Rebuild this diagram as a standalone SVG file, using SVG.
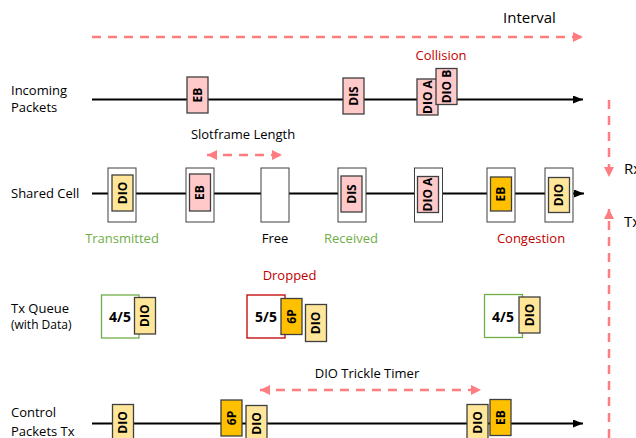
<svg xmlns="http://www.w3.org/2000/svg" width="636" height="438" viewBox="0 0 636 438">
  <style>
    .t { font-family: "Open Sans", "Liberation Sans", sans-serif; font-size: 13px; fill: #000; }
    .red { fill: #c00000; }
    .grn { fill: #70ad47; }
    .pkt { stroke: #3f3f3f; stroke-width: 1.3; }
    .pink { fill: #ffc9c9; }
    .yel { fill: #ffe699; }
    .org { fill: #ffc000; }
    .cell { fill: #fff; stroke: #3f3f3f; stroke-width: 1; }
    .pl { font-family: "Open Sans", "Liberation Sans", sans-serif; font-size: 12px; font-weight: bold; fill: #000; text-anchor: middle; }
    .ql { font-family: "Open Sans", "Liberation Sans", sans-serif; font-size: 14px; font-weight: bold; fill: #000; text-anchor: middle; }
    .axis { stroke: #000; stroke-width: 2; fill: none; }
    .dash { stroke: #ff7c80; stroke-width: 2.5; stroke-dasharray: 9 7; fill: none; }
  </style>
  <defs>
    <marker id="blk" markerUnits="userSpaceOnUse" markerWidth="10" markerHeight="8" refX="10" refY="4" orient="auto">
      <path d="M0,0 L10,4 L0,8 z" fill="#000"/>
    </marker>
    <marker id="sal" markerUnits="userSpaceOnUse" markerWidth="10" markerHeight="10" refX="10" refY="5" orient="auto-start-reverse">
      <path d="M0,0 L10,5 L0,10 z" fill="#ff7c80"/>
    </marker>
  </defs>

  <rect width="636" height="438" fill="#fff"/>

  <!-- timelines and range arrows -->
  <g id="connectors">
    <line class="dash" x1="92" y1="37" x2="583" y2="37" marker-end="url(#sal)"/>
    <line class="axis" x1="92" y1="99.5" x2="583" y2="99.5" marker-end="url(#blk)"/>
    <line class="dash" x1="207" y1="155" x2="282" y2="155" marker-start="url(#sal)" marker-end="url(#sal)"/>
    <line class="axis" x1="92" y1="193.5" x2="584" y2="193.5" marker-end="url(#blk)"/>
    <line class="dash" x1="260" y1="390" x2="481" y2="390" marker-start="url(#sal)" marker-end="url(#sal)"/>
    <line class="axis" x1="92" y1="423.5" x2="583" y2="423.5" marker-end="url(#blk)"/>
    <line class="dash" x1="609" y1="100" x2="609" y2="177" marker-end="url(#sal)"/>
    <line class="dash" x1="609" y1="438" x2="609" y2="209" marker-end="url(#sal)"/>
  </g>

  <!-- row titles -->
  <g id="row-labels">
    <text class="t" x="11" y="95">Incoming</text>
    <text class="t" x="11" y="112">Packets</text>
    <text class="t" x="11" y="198">Shared Cell</text>
    <text class="t" x="11" y="312.5">Tx Queue</text>
    <text class="t" x="11" y="329" style="font-size:12px">(with Data)</text>
    <text class="t" x="11" y="417">Control</text>
    <text class="t" x="11" y="435.5">Packets Tx</text>
    <text class="t" x="503" y="23" style="font-size:15px">Interval</text>
    <text class="t" x="624" y="174" style="font-size:15px">Rx</text>
    <text class="t" x="624" y="227" style="font-size:15px">Tx</text>
    <text class="t" x="243" y="139" text-anchor="middle">Slotframe Length</text>
    <text class="t" x="367" y="378" text-anchor="middle">DIO Trickle Timer</text>
  </g>

  <!-- incoming packets -->
  <g id="in-eb">
    <rect class="pkt pink" x="187" y="77" width="21" height="36"/>
    <text class="pl" transform="translate(197.5,95) rotate(-90)" dy="0.36em">EB</text>
  </g>
  <g id="in-dis">
    <rect class="pkt pink" x="343" y="78" width="21" height="36"/>
    <text class="pl" transform="translate(353.5,96) rotate(-90)" dy="0.36em">DIS</text>
  </g>
  <g id="in-dio-a">
    <rect class="pkt pink" x="417" y="79" width="21" height="36"/>
    <text class="pl" transform="translate(427.5,97) rotate(-90)" dy="0.36em">DIO A</text>
  </g>
  <g id="in-dio-b">
    <rect class="pkt pink" x="436" y="68.5" width="21" height="36"/>
    <text class="pl" transform="translate(446.5,86.5) rotate(-90)" dy="0.36em">DIO B</text>
  </g>
  <g id="collision">
    <text class="t red" x="441" y="60" text-anchor="middle">Collision</text>
  </g>

  <!-- shared cell slots -->
  <g id="cell-1">
    <rect class="cell" x="108" y="168" width="28" height="54"/>
    <rect class="pkt yel" x="112" y="175" width="21" height="36"/>
    <text class="pl" transform="translate(122.5,193) rotate(-90)" dy="0.36em">DIO</text>
    <text class="t grn" x="122" y="243" text-anchor="middle">Transmitted</text>
  </g>
  <g id="cell-2">
    <rect class="cell" x="186" y="168" width="28" height="54"/>
    <rect class="pkt pink" x="189.5" y="174" width="21" height="37"/>
    <text class="pl" transform="translate(200,192.5) rotate(-90)" dy="0.36em">EB</text>
  </g>
  <g id="cell-3">
    <rect class="cell" x="261" y="168" width="28" height="54"/>
    <text class="t" x="275" y="243" text-anchor="middle">Free</text>
  </g>
  <g id="cell-4">
    <rect class="cell" x="338" y="168" width="28" height="54"/>
    <rect class="pkt pink" x="341" y="176" width="21" height="36"/>
    <text class="pl" transform="translate(351.5,194) rotate(-90)" dy="0.36em">DIS</text>
    <text class="t grn" x="351" y="243" text-anchor="middle">Received</text>
  </g>
  <g id="cell-5">
    <rect class="cell" x="414.5" y="168" width="28" height="54"/>
    <rect class="pkt pink" x="417.5" y="176.5" width="21" height="36"/>
    <text class="pl" transform="translate(428,194.5) rotate(-90)" dy="0.36em">DIO A</text>
  </g>
  <g id="cell-6">
    <rect class="cell" x="487" y="168" width="28" height="54"/>
    <rect class="pkt org" x="490.5" y="177" width="21" height="34"/>
    <text class="pl" transform="translate(501,194) rotate(-90)" dy="0.36em">EB</text>
    <text class="t red" x="531" y="243" text-anchor="middle">Congestion</text>
  </g>
  <g id="cell-7">
    <rect class="cell" x="545" y="168" width="28" height="54"/>
    <rect class="pkt yel" x="548.5" y="177.5" width="21" height="35"/>
    <text class="pl" transform="translate(559,195) rotate(-90)" dy="0.36em">DIO</text>
  </g>

  <!-- transmit queue states -->
  <g id="queue-1">
    <rect x="101.5" y="295" width="37.5" height="43" fill="#fff" stroke="#70ad47" stroke-width="1.3"/>
    <text class="ql" x="120" y="322">4/5</text>
    <rect class="pkt yel" x="134.5" y="297.5" width="21" height="36.5"/>
    <text class="pl" transform="translate(145,315.75) rotate(-90)" dy="0.36em">DIO</text>
  </g>
  <g id="queue-2">
    <text class="t red" x="289.5" y="280" text-anchor="middle">Dropped</text>
    <rect x="247" y="295" width="38" height="43" fill="#fff" stroke="#c00000" stroke-width="1.3"/>
    <text class="ql" x="266" y="322">5/5</text>
    <rect class="pkt org" x="281" y="298.5" width="21" height="36"/>
    <text class="pl" transform="translate(291.5,316.5) rotate(-90)" dy="0.36em">6P</text>
    <rect class="pkt yel" x="305.5" y="304.5" width="21" height="37"/>
    <text class="pl" transform="translate(316,323) rotate(-90)" dy="0.36em">DIO</text>
  </g>
  <g id="queue-3">
    <rect x="484.5" y="294.5" width="38" height="43" fill="#fff" stroke="#70ad47" stroke-width="1.3"/>
    <text class="ql" x="503" y="321.5">4/5</text>
    <rect class="pkt yel" x="519" y="297" width="21" height="36"/>
    <text class="pl" transform="translate(529.5,315) rotate(-90)" dy="0.36em">DIO</text>
  </g>

  <!-- control packets sent -->
  <g id="tx-dio-1">
    <rect class="pkt yel" x="112.5" y="404.5" width="21" height="36"/>
    <text class="pl" transform="translate(123,422.5) rotate(-90)" dy="0.36em">DIO</text>
  </g>
  <g id="tx-6p">
    <rect class="pkt org" x="221" y="400" width="21" height="36"/>
    <text class="pl" transform="translate(231.5,418) rotate(-90)" dy="0.36em">6P</text>
  </g>
  <g id="tx-dio-2">
    <rect class="pkt yel" x="246" y="405.5" width="21" height="36"/>
    <text class="pl" transform="translate(256.5,423.5) rotate(-90)" dy="0.36em">DIO</text>
  </g>
  <g id="tx-dio-3">
    <rect class="pkt yel" x="467" y="404.5" width="21" height="36"/>
    <text class="pl" transform="translate(477.5,422.5) rotate(-90)" dy="0.36em">DIO</text>
  </g>
  <g id="tx-eb">
    <rect class="pkt org" x="490" y="399.5" width="21" height="36"/>
    <text class="pl" transform="translate(500.5,417.5) rotate(-90)" dy="0.36em">EB</text>
  </g>
</svg>
